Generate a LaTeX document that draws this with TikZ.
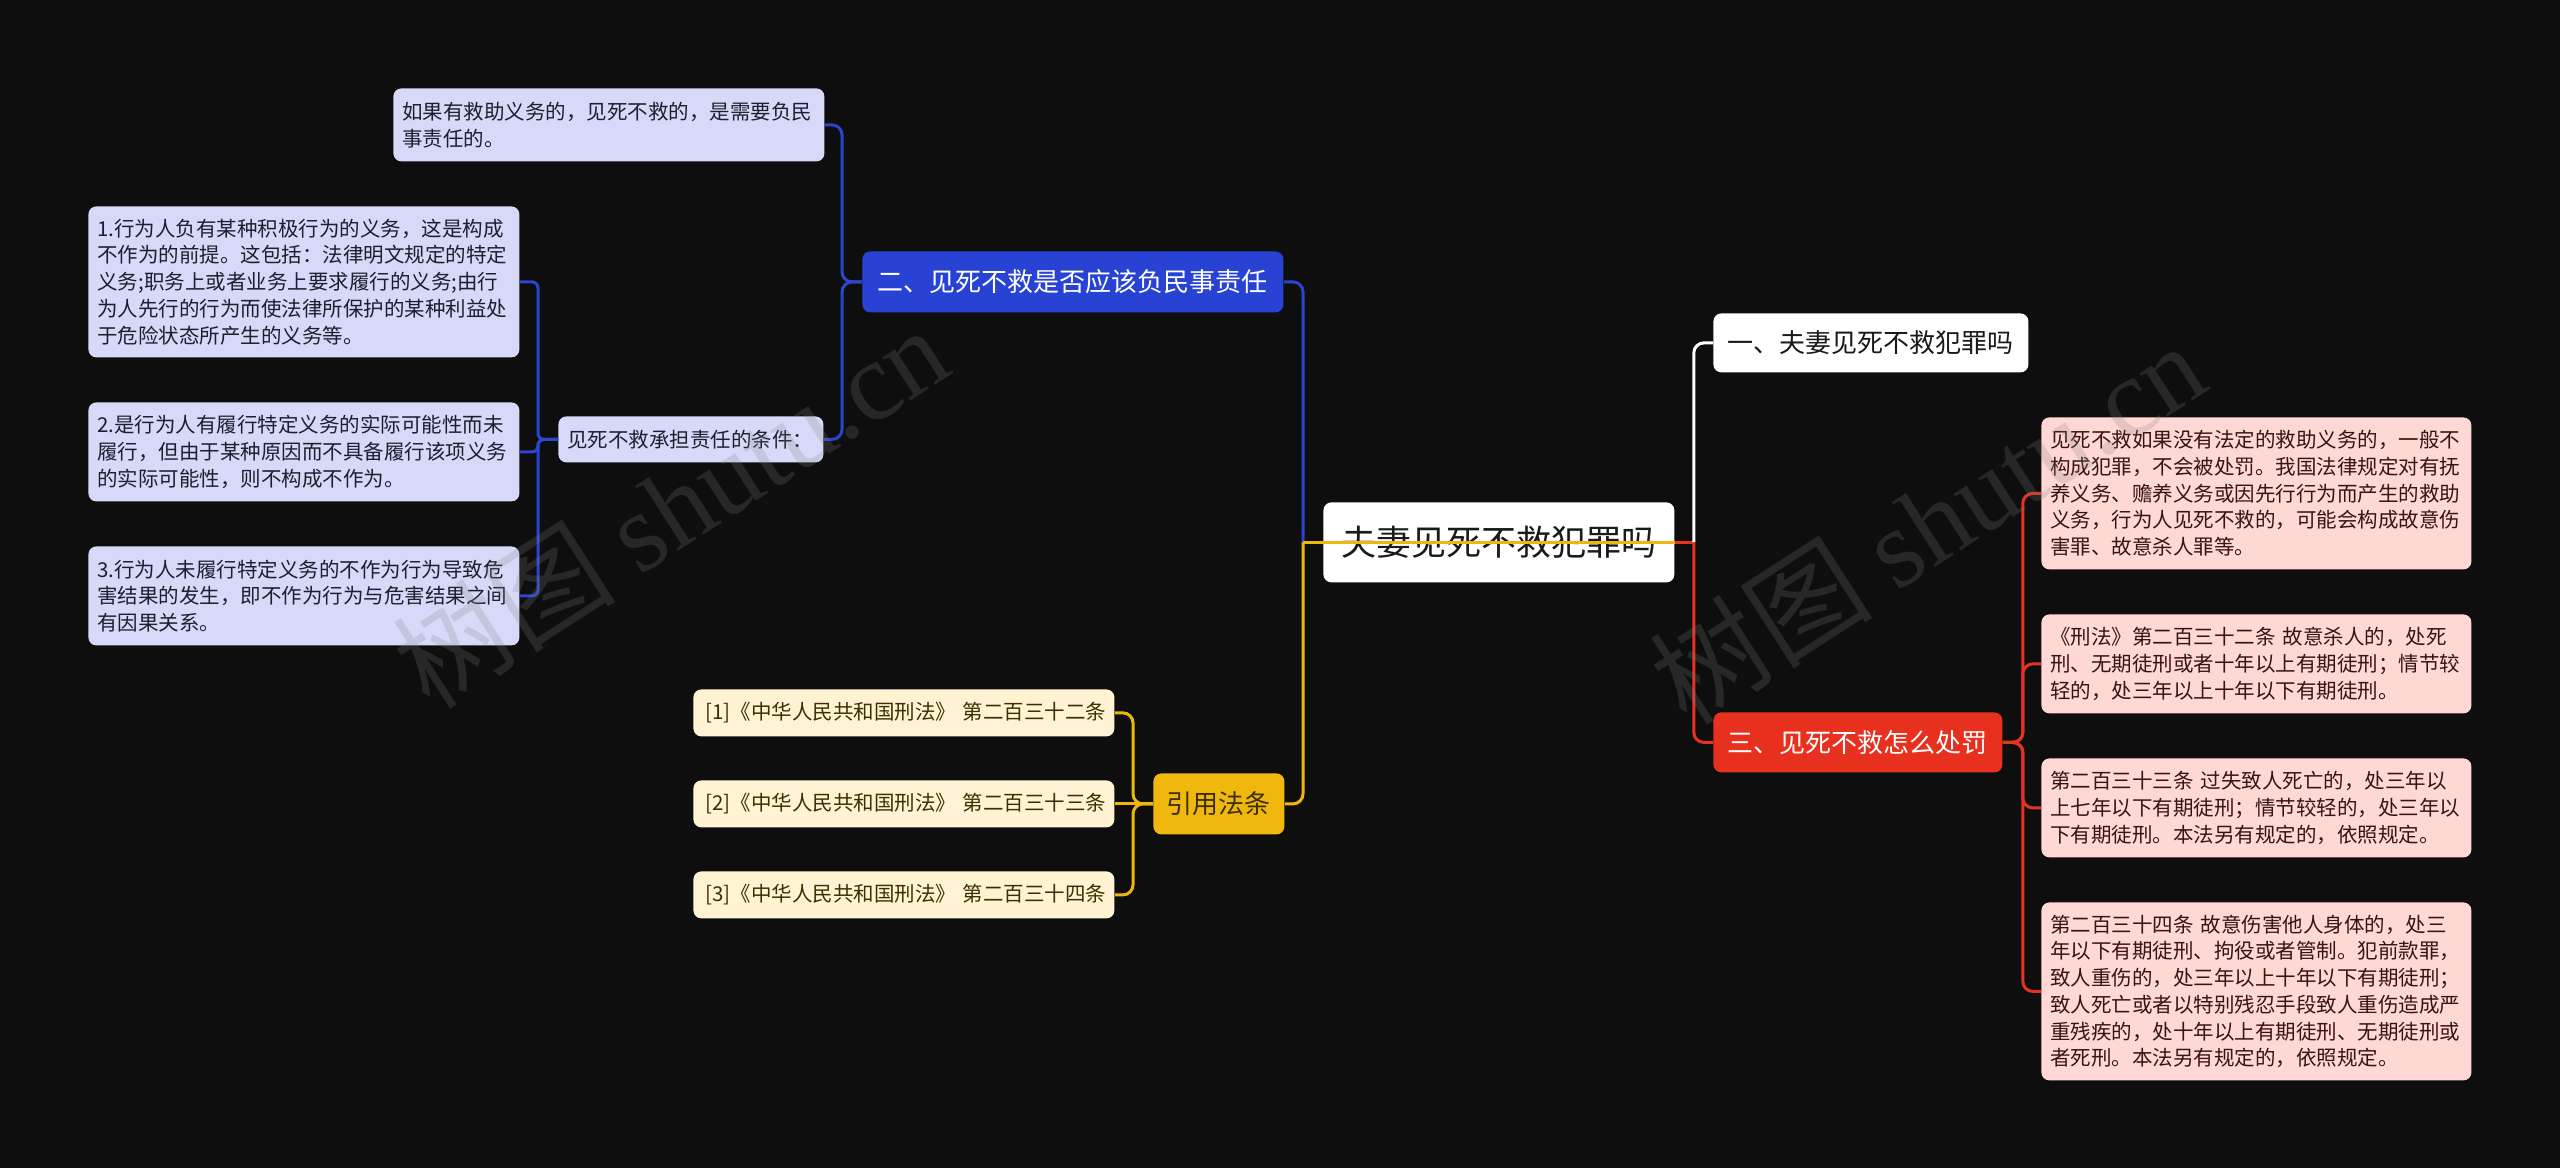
\documentclass[tikz,border=0pt]{standalone}
\usepackage{fontspec}
\setmainfont{Noto Sans CJK SC}
\newfontfamily\wmlatin{Liberation Serif}
\usetikzlibrary{calc}
\definecolor{bg}{HTML}{0E0E0E}
\definecolor{blueN}{HTML}{2843D4}
\definecolor{blueL}{HTML}{2B45CF}
\definecolor{lav}{HTML}{D6DAF8}
\definecolor{lavtext}{HTML}{1E1E30}
\definecolor{yelN}{HTML}{F0B80E}
\definecolor{yelL}{HTML}{EDB710}
\definecolor{cream}{HTML}{FFF3D4}
\definecolor{creamtext}{HTML}{3A3000}
\definecolor{redN}{HTML}{E8301E}
\definecolor{redL}{HTML}{E53322}
\definecolor{pink}{HTML}{FFD8D5}
\definecolor{pinktext}{HTML}{3B1212}
\definecolor{darktext}{HTML}{1A1A1A}
\tikzset{
  box/.style={anchor=north west, rounded corners=4pt, inner sep=0pt, align=center},
  mid/.style={box, font=\fontsize{13pt}{16pt}\selectfont},
  leaf/.style={anchor=north west, rounded corners=4pt, inner xsep=4.5pt, inner ysep=0pt, align=left,
    font=\fontsize{10.25pt}{13.35pt}\selectfont},
  lavbox/.style={leaf, fill=lav, text=lavtext},
  pinkbox/.style={leaf, fill=pink, text=pinktext, text width=206pt},
  citebox/.style={leaf, fill=cream, text=creamtext, inner xsep=6pt, text width=198.5pt, minimum height=23.5pt},
  conn/.style={line width=1.5pt, rounded corners=5pt},
  bl/.style={conn, draw=blueL},
  yl/.style={conn, draw=yelL},
  rd/.style={conn, draw=redL},
  wt/.style={conn, draw=white},
  wmark/.style={rotate=32.8, text=gray, opacity=0.22, font=\fontsize{56pt}{56pt}\selectfont}
}
\begin{document}
\begin{tikzpicture}[x=0.5pt,y=-0.5pt]
\fill[bg] (0,0) rectangle (2560,1168);
\useasboundingbox (0,0) rectangle (2560,1168);

% nodes
\node[box, fill=white, text=darktext, minimum width=175.5pt, minimum height=40pt,
  font=\fontsize{17.5pt}{20pt}\selectfont] (root) at (1323,502) {夫妻见死不救犯罪吗};
\node[mid, fill=white, text=darktext, minimum width=157.5pt, minimum height=29.5pt] (one) at (1713,313) {一、夫妻见死不救犯罪吗};
\node[mid, fill=redN, text=white, minimum width=144.5pt, minimum height=30pt] (three) at (1713,712) {三、见死不救怎么处罚};
\node[mid, fill=blueN, text=white, minimum width=210.5pt, minimum height=30.5pt] (two) at (862,251) {二、见死不救是否应该负民事责任};
\node[mid, fill=yelN, text=creamtext, minimum width=65.5pt, minimum height=30.5pt] (cite) at (1153,773) {引用法条};

\node[lavbox, text width=206.5pt, minimum height=36.5pt] (T) at (393,88)
  {如果有救助义务的，见死不救的，是需要负民\\事责任的。};
\node[lavbox, text width=123.5pt, minimum height=23pt] (cond) at (558,416)
  {见死不救承担责任的条件：};
\node[lavbox, text width=206.5pt, minimum height=75.5pt] (L1) at (88,206)
  {1.行为人负有某种积极行为的义务，这是构成\\不作为的前提。这包括：法律明文规定的特定\\义务;职务上或者业务上要求履行的义务;由行\\为人先行的行为而使法律所保护的某种利益处\\于危险状态所产生的义务等。};
\node[lavbox, text width=206.5pt, minimum height=49.5pt] (L2) at (88,402)
  {2.是行为人有履行特定义务的实际可能性而未\\履行，但由于某种原因而不具备履行该项义务\\的实际可能性，则不构成不作为。};
\node[lavbox, text width=206.5pt, minimum height=49.5pt] (L3) at (88,546)
  {3.行为人未履行特定义务的不作为行为导致危\\害结果的发生，即不作为行为与危害结果之间\\有因果关系。};

\node[citebox] (C1) at (693,689) {[1]《中华人民共和国刑法》~第二百三十二条};
\node[citebox] (C2) at (693,780) {[2]《中华人民共和国刑法》~第二百三十三条};
\node[citebox] (C3) at (693,871) {[3]《中华人民共和国刑法》~第二百三十四条};

\node[pinkbox, minimum height=76pt] (P1) at (2041,417)
  {见死不救如果没有法定的救助义务的，一般不\\构成犯罪，不会被处罚。我国法律规定对有抚\\养义务、赡养义务或因先行行为而产生的救助\\义务，行为人见死不救的，可能会构成故意伤\\害罪、故意杀人罪等。};
\node[pinkbox, minimum height=49.5pt] (P2) at (2041,614)
  {《刑法》第二百三十二条~故意杀人的，处死\\刑、无期徒刑或者十年以上有期徒刑；情节较\\轻的，处三年以上十年以下有期徒刑。};
\node[pinkbox, minimum height=49.5pt] (P3) at (2041,758)
  {第二百三十三条~过失致人死亡的，处三年以\\上七年以下有期徒刑；情节较轻的，处三年以\\下有期徒刑。本法另有规定的，依照规定。};
\node[pinkbox, minimum height=89pt] (P4) at (2041,902)
  {第二百三十四条~故意伤害他人身体的，处三\\年以下有期徒刑、拘役或者管制。犯前款罪，\\致人重伤的，处三年以上十年以下有期徒刑；\\致人死亡或者以特别残忍手段致人重伤造成严\\重残疾的，处十年以上有期徒刑、无期徒刑或\\者死刑。本法另有规定的，依照规定。};

% junctions
\coordinate (lj) at ($(root.west)+(-20,0)$);
\coordinate (rj) at ($(root.east)+(19,0)$);

% connectors
\draw[bl, rounded corners=0pt] (root.west) -- (lj);
\draw[bl] (lj) |- (two.east);
\draw[yl] (lj) |- (cite.east);
\draw[rd, rounded corners=0pt] (root.east) -- (rj);
\draw[wt] (rj) |- (one.west);
\draw[rd] (rj) |- (three.west);
\draw[yl, rounded corners=0pt] (root.east) -- (lj);

\foreach \c in {T,cond} \draw[bl] (two.west) -- ++(-20,0) |- (\c.east);
\foreach \c in {L1,L2,L3} \draw[bl, rounded corners=3pt] (cond.west) -- ++(-20,0) |- (\c.east);
\foreach \c in {C1,C3} \draw[yl] (cite.west) -- ++(-20,0) |- (\c.east);
\draw[yl] (cite.west) -- (C2.east);
\foreach \c in {P1,P2,P3,P4} \draw[rd] (three.east) -- ++(20,0) |- (\c.west);

% watermarks
\node[wmark] (wm1) at (670,506) {树图 {\wmlatin shutu.cn}};
\node[wmark] (wm2) at (1927,522) {树图 {\wmlatin shutu.cn}};
\end{tikzpicture}
\end{document}
